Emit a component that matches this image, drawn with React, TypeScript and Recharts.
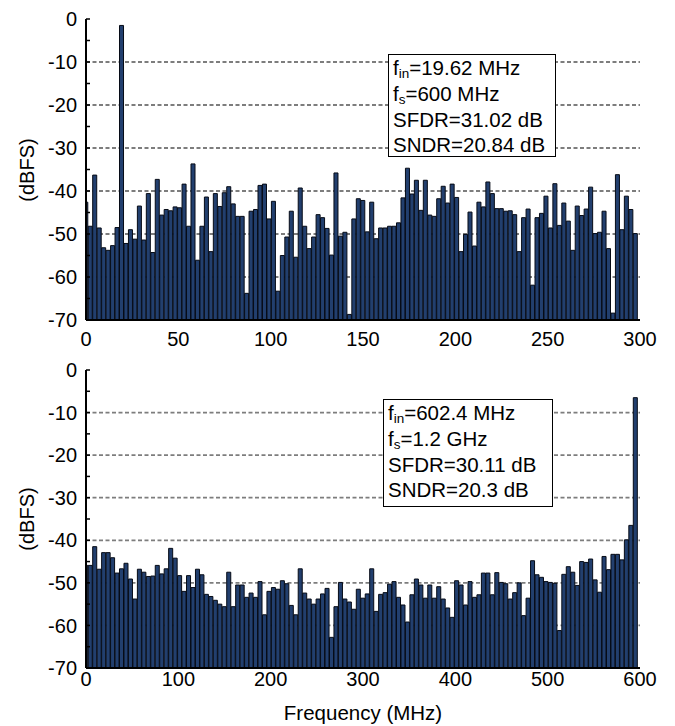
import React from 'react'
import { BarChart, Bar, XAxis, YAxis, CartesianGrid } from 'recharts'

// ─── Data (dBFS per FFT bin) ─────────────────────────────────────────────────

const BIN_COUNT = 124

const topSpan = 300 // MHz, fs = 600 MHz
const topDbfs = [
  -42.6, -48.2, -36.3, -48.6, -53.2, -53.8, -52.7, -48.5, -1.5, -52.2,
  -49.0, -51.2, -43.5, -51.4, -40.6, -54.3, -37.3, -45.6, -44.3, -44.6,
  -43.7, -43.9, -38.4, -48.2, -33.7, -56.1, -48.2, -41.4, -54.1, -40.6,
  -43.6, -40.4, -39.0, -43.0, -45.9, -45.9, -63.8, -44.7, -44.3, -38.7,
  -38.4, -46.5, -42.4, -63.3, -55.0, -50.7, -44.7, -55.4, -39.3, -48.2,
  -53.4, -50.7, -45.5, -46.2, -48.7, -54.9, -35.8, -50.5, -49.6, -68.7,
  -46.5, -41.8, -42.2, -49.5, -42.6, -51.1, -48.6, -48.6, -48.2, -48.2,
  -47.4, -41.6, -34.7, -40.7, -37.5, -44.5, -37.5, -45.6, -45.9, -41.8,
  -38.9, -42.8, -38.4, -41.5, -54.1, -50.1, -44.9, -52.8, -42.6, -43.7,
  -37.9, -40.6, -44.1, -44.1, -44.7, -44.6, -45.5, -54.1, -46.2, -44.2,
  -61.9, -46.2, -45.2, -41.2, -48.6, -38.3, -48.0, -42.8, -47.0, -53.8,
  -43.5, -45.7, -44.2, -39.1, -49.9, -49.6, -44.7, -53.4, -68.4, -36.2,
  -49.0, -41.2, -44.3, -49.9,
]
const topTicks = [0, 50, 100, 150, 200, 250, 300]

const bottomSpan = 600 // MHz, fs = 1.2 GHz
const bottomDbfs = [
  -45.9, -45.9, -41.5, -46.8, -42.9, -42.9, -44.1, -47.7, -46.7, -45.4,
  -49.1, -53.8, -46.8, -47.5, -48.5, -48.4, -45.9, -47.9, -46.7, -41.9,
  -44.2, -48.3, -52.0, -48.3, -51.1, -46.8, -48.1, -52.7, -53.2, -54.1,
  -55.0, -55.6, -47.5, -55.6, -50.5, -50.5, -53.4, -52.4, -53.4, -49.7,
  -57.5, -52.0, -51.1, -51.5, -49.5, -50.2, -55.3, -57.5, -46.7, -52.4,
  -53.8, -55.0, -53.8, -52.6, -51.3, -62.8, -55.6, -49.9, -53.8, -54.5,
  -56.2, -51.5, -53.6, -52.6, -46.7, -56.7, -52.7, -52.3, -50.3, -49.7,
  -53.4, -55.2, -59.2, -52.8, -49.1, -50.5, -53.6, -50.5, -53.6, -50.9,
  -53.8, -55.9, -58.1, -49.5, -50.5, -55.2, -49.7, -53.4, -52.8, -47.7,
  -47.7, -52.8, -47.6, -49.9, -50.2, -53.8, -52.3, -50.0, -57.7, -53.6,
  -44.8, -48.1, -48.7, -49.7, -49.9, -50.1, -61.2, -48.0, -46.2, -47.5,
  -50.6, -45.0, -45.2, -44.4, -49.3, -52.2, -43.8, -46.9, -43.3, -43.3,
  -44.6, -39.9, -36.5, -6.5,
]
const bottomTicks = [0, 100, 200, 300, 400, 500, 600]

const yTicks = [0, -5, -10, -15, -20, -25, -30, -35, -40, -45, -50, -55, -60, -65, -70]
const gridLevels = [-10, -20, -30, -40, -50, -60]
const FLOOR = -70

// bars run from the -70 floor up to the bin level
const toRows = (values: number[], span: number) =>
  values.map((v, i) => ({ f: (i * span) / BIN_COUNT, level: [FLOOR, v] }))

const topData = toRows(topDbfs, topSpan)
const bottomData = toRows(bottomDbfs, bottomSpan)

// ─── Styling ──────────────────────────────────────────────────────────────────

const FONT = '"Liberation Sans", Arial, Helvetica, sans-serif'
const PLOT_W = 554
const BAR_W = PLOT_W / BIN_COUNT
const frameLine = { stroke: '#000', strokeWidth: 2 }
const tickText = { fill: '#000', fontSize: 20, fontFamily: FONT }

// ─── Panel ────────────────────────────────────────────────────────────────────

interface PanelProps {
  data: { f: number; level: number[] }[]
  span: number
  ticks: number[]
  height: number
  marginTop: number
  xAxisHeight: number
  xTickMargin: number
  xLabel?: string
}

function SpectrumPanel({ data, span, ticks, height, marginTop, xAxisHeight, xTickMargin, xLabel }: PanelProps) {
  return (
    <BarChart
      width={675}
      height={height}
      data={data}
      margin={{ top: marginTop, right: 35, bottom: 0, left: 0 }}
      barGap={0}
      barCategoryGap={0}
    >
      <CartesianGrid
        vertical={false}
        horizontalValues={gridLevels}
        stroke="#7d7d7d"
        strokeWidth={1.8}
        strokeDasharray="4 2.5"
      />
      <XAxis
        dataKey="f"
        type="number"
        domain={[0, span]}
        ticks={ticks}
        interval={0}
        allowDataOverflow
        height={xAxisHeight}
        axisLine={frameLine}
        tickLine={false}
        tickSize={0}
        tickMargin={xTickMargin}
        tick={tickText}
        label={
          xLabel
            ? { value: xLabel, position: 'insideBottom', offset: 6, fill: '#000', fontSize: 20.5, fontFamily: FONT }
            : undefined
        }
      />
      <XAxis
        xAxisId="top"
        orientation="top"
        dataKey="f"
        type="number"
        domain={[0, span]}
        height={0}
        axisLine={frameLine}
        tick={false}
        tickLine={false}
      />
      <YAxis
        type="number"
        domain={[FLOOR, 0]}
        ticks={yTicks}
        interval={0}
        width={86}
        axisLine={frameLine}
        tickLine={{ stroke: '#000', strokeWidth: 1.5 }}
        tickSize={-4}
        tickMargin={13}
        tick={tickText}
        tickFormatter={(v: number) => (v % 10 === 0 ? String(v) : '')}
      />
      <YAxis
        yAxisId="right"
        orientation="right"
        type="number"
        domain={[FLOOR, 0]}
        width={0}
        axisLine={frameLine}
        tick={false}
        tickLine={false}
      />
      <Bar
        dataKey="level"
        barSize={BAR_W}
        fill="#223f6e"
        stroke="#060b16"
        strokeWidth={1}
        isAnimationActive={false}
      />
    </BarChart>
  )
}

// ─── Annotation box ───────────────────────────────────────────────────────────

function InfoBox({ left, top, width, height, lines }: {
  left: number
  top: number
  width: number
  height: number
  lines: { label: string; sub?: string; value: string }[]
}) {
  return (
    <div
      style={{
        position: 'absolute',
        left,
        top,
        width,
        height,
        boxSizing: 'border-box',
        border: '1px solid #000',
        background: '#fff',
        padding: '0 0 0 4px',
        fontFamily: FONT,
        fontSize: 20.5,
        lineHeight: '25.8px',
        color: '#000',
        whiteSpace: 'nowrap',
      }}
    >
      {lines.map((l) => (
        <div key={l.label + l.value}>
          {l.label}
          {l.sub && <sub style={{ fontSize: 13.5, lineHeight: 0, verticalAlign: '-3px' }}>{l.sub}</sub>}
          {l.value}
        </div>
      ))}
    </div>
  )
}

const yLabelStyle: React.CSSProperties = {
  position: 'absolute',
  left: 27,
  transform: 'translate(-50%, -50%) rotate(-90deg)',
  fontFamily: FONT,
  fontSize: 20,
  whiteSpace: 'nowrap',
  color: '#000',
}

// ─── Component ────────────────────────────────────────────────────────────────

export default function App() {
  return (
    <div style={{ position: 'absolute', left: 0, top: 0, width: 675, height: 726, background: '#fff' }}>
      <div style={{ position: 'absolute', left: 0, top: 0 }}>
        <SpectrumPanel
          data={topData}
          span={topSpan}
          ticks={topTicks}
          height={350}
          marginTop={19}
          xAxisHeight={30}
          xTickMargin={12}
        />
      </div>
      <div style={{ position: 'absolute', left: 0, top: 350 }}>
        <SpectrumPanel
          data={bottomData}
          span={bottomSpan}
          ticks={bottomTicks}
          height={376}
          marginTop={20}
          xAxisHeight={58}
          xTickMargin={4}
          xLabel="Frequency (MHz)"
        />
      </div>

      <div style={{ ...yLabelStyle, top: 170 }}>(dBFS)</div>
      <div style={{ ...yLabelStyle, top: 519 }}>(dBFS)</div>

      <InfoBox
        left={388}
        top={54}
        width={168}
        height={103}
        lines={[
          { label: 'f', sub: 'in', value: '=19.62 MHz' },
          { label: 'f', sub: 's', value: '=600 MHz' },
          { label: 'SFDR', value: '=31.02 dB' },
          { label: 'SNDR', value: '=20.84 dB' },
        ]}
      />
      <InfoBox
        left={383}
        top={399}
        width={170}
        height={108}
        lines={[
          { label: 'f', sub: 'in', value: '=602.4 MHz' },
          { label: 'f', sub: 's', value: '=1.2 GHz' },
          { label: 'SFDR', value: '=30.11 dB' },
          { label: 'SNDR', value: '=20.3 dB' },
        ]}
      />
    </div>
  )
}
